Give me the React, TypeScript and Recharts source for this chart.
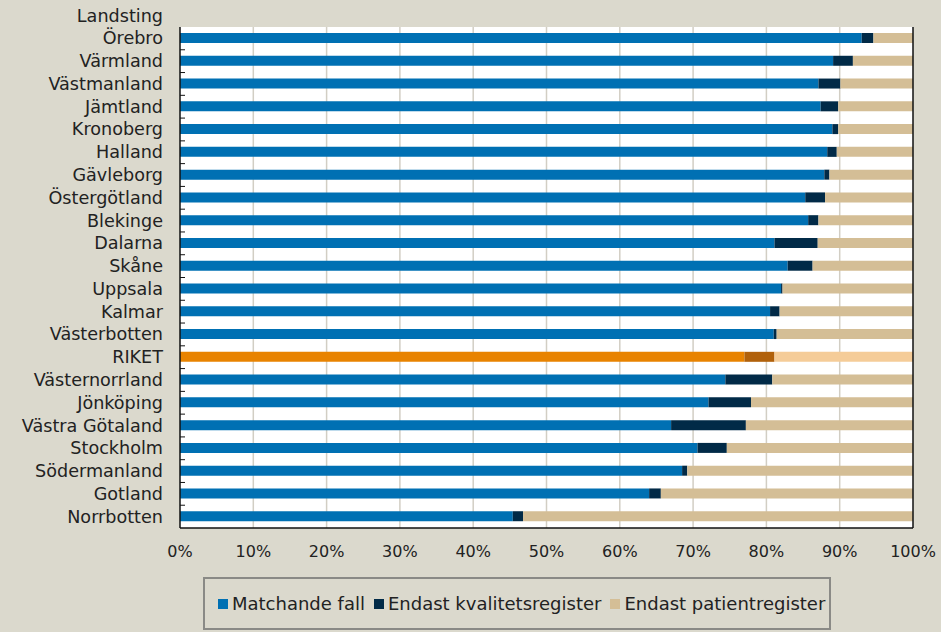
import React from "react";
import { BarChart, Bar, XAxis, YAxis, ReferenceLine, Cell } from "recharts";

const landsting = [
  "Örebro", "Värmland", "Västmanland", "Jämtland", "Kronoberg", "Halland", "Gävleborg",
  "Östergötland", "Blekinge", "Dalarna", "Skåne", "Uppsala", "Kalmar", "Västerbotten",
  "RIKET", "Västernorrland", "Jönköping", "Västra Götaland", "Stockholm", "Södermanland",
  "Gotland", "Norrbotten",
];
const matchande = [93.0, 89.1, 87.1, 87.4, 89.0, 88.3, 87.9, 85.3, 85.7, 81.1, 82.9, 82.0, 80.5, 81.0, 77.0, 74.4, 72.1, 67.0, 70.6, 68.5, 64.0, 45.4];
const kvalitet = [1.6, 2.7, 3.0, 2.4, 0.8, 1.3, 0.7, 2.7, 1.4, 5.9, 3.4, 0.2, 1.3, 0.4, 4.1, 6.4, 5.8, 10.2, 4.0, 0.7, 1.6, 1.4];
const patient = [5.4, 8.2, 9.9, 10.2, 10.2, 10.4, 11.4, 12.0, 12.9, 13.0, 13.7, 17.8, 18.2, 18.6, 18.9, 19.2, 22.1, 22.8, 25.4, 30.8, 34.4, 53.2];
const xTicks = [0, 10, 20, 30, 40, 50, 60, 70, 80, 90, 100];

const series = [
  { key: "matchande", name: "Matchande fall", color: "#0070b3", riket: "#e88300" },
  { key: "kvalitet", name: "Endast kvalitetsregister", color: "#012a47", riket: "#b1610b" },
  { key: "patient", name: "Endast patientregister", color: "#d4be96", riket: "#f5cc98" },
];

const data = landsting.map((name, i) => ({
  name,
  matchande: matchande[i],
  kvalitet: kvalitet[i],
  patient: patient[i],
}));

const W = 941;
const H = 632;
const PLOT_LEFT = 180;
const PLOT_RIGHT = 913;
const PLOT_TOP = 27;
const PLOT_BOTTOM = 528;
const X_AXIS_H = 40;
const BAND = (PLOT_BOTTOM - PLOT_TOP) / landsting.length;
const FONT = "'DejaVu Sans', sans-serif";
const TXT = "#222";

const CatTick = (props: any) => {
  const { y, payload, index } = props;
  return (
    <g>
      <text x={PLOT_LEFT - 17} y={y} dy={6} textAnchor="end" fontSize={17.6} fill={TXT} fontFamily={FONT}>
        {payload.value}
      </text>
      {index < landsting.length - 1 && (
        <line x1={PLOT_LEFT} x2={PLOT_LEFT + 5} y1={y + BAND / 2} y2={y + BAND / 2} stroke="#111" strokeWidth={1} />
      )}
    </g>
  );
};

// white plot area with light vertical gridlines, drawn underneath the chart svg
const PlotBackground = () => (
  <svg width={W} height={H} style={{ position: "absolute", left: 0, top: 0 }}>
    <rect x={PLOT_LEFT} y={PLOT_TOP} width={PLOT_RIGHT - PLOT_LEFT} height={PLOT_BOTTOM - PLOT_TOP} fill="#ffffff" />
    {xTicks
      .filter((t) => t > 0 && t < 100)
      .map((t) => {
        const x = PLOT_LEFT + ((PLOT_RIGHT - PLOT_LEFT) * t) / 100;
        return <line key={t} x1={x} x2={x} y1={PLOT_TOP} y2={PLOT_BOTTOM} stroke="#d2cec4" strokeWidth={1.5} />;
      })}
  </svg>
);

export default function App() {
  return (
    <div style={{ position: "absolute", left: 0, top: 0, width: W, height: H, background: "#dbd9cd" }}>
      <PlotBackground />
      <div style={{ position: "absolute", left: 0, top: 0 }}>
        <BarChart
          width={W}
          height={H}
          data={data}
          layout="vertical"
          margin={{ top: PLOT_TOP, right: W - PLOT_RIGHT, bottom: H - PLOT_BOTTOM - X_AXIS_H, left: 0 }}
          barSize={10}
          style={{ fontFamily: FONT }}
        >
          <XAxis
            type="number"
            domain={[0, 100]}
            ticks={xTicks}
            tickFormatter={(v) => `${v}%`}
            axisLine={{ stroke: "#111", strokeWidth: 1.5 }}
            tickLine={false}
            tick={{ fontSize: 16, fill: TXT, fontFamily: FONT }}
            tickMargin={12}
            interval={0}
            height={X_AXIS_H}
          />
          <XAxis
            xAxisId="top"
            type="number"
            orientation="top"
            domain={[0, 100]}
            axisLine={{ stroke: "#777", strokeWidth: 1.5 }}
            tick={false}
            tickLine={false}
            height={0}
          />
          <YAxis
            type="category"
            dataKey="name"
            width={PLOT_LEFT}
            axisLine={{ stroke: "#111", strokeWidth: 1.5 }}
            tickLine={false}
            tick={<CatTick />}
            interval={0}
            label={() => (
              <text x={PLOT_LEFT - 17} y={PLOT_TOP - BAND / 2} dy={6} textAnchor="end" fontSize={17.6} fill={TXT} fontFamily={FONT}>
                Landsting
              </text>
            )}
          />
          <ReferenceLine x={100} stroke="#111" strokeWidth={1.5} />
          {series.map((s) => (
            <Bar key={s.key} dataKey={s.key} name={s.name} stackId="a" fill={s.color} isAnimationActive={false}>
              {data.map((d) => (
                <Cell key={d.name} fill={d.name === "RIKET" ? s.riket : s.color} />
              ))}
            </Bar>
          ))}
        </BarChart>
      </div>
      <div
        style={{
          position: "absolute",
          left: 203,
          top: 577,
          width: 611,
          height: 49,
          border: "2px solid #8a8a86",
          display: "flex",
          alignItems: "center",
          paddingLeft: 13,
          boxSizing: "content-box",
          fontFamily: FONT,
          fontSize: 18,
          color: TXT,
          whiteSpace: "nowrap",
        }}
      >
        {series.map((s) => (
          <div key={s.key} style={{ display: "flex", alignItems: "center", marginRight: 9, flexShrink: 0 }}>
            <span style={{ width: 10, height: 10, background: s.color, marginRight: 4, display: "inline-block" }} />
            <span>{s.name}</span>
          </div>
        ))}
      </div>
    </div>
  );
}
